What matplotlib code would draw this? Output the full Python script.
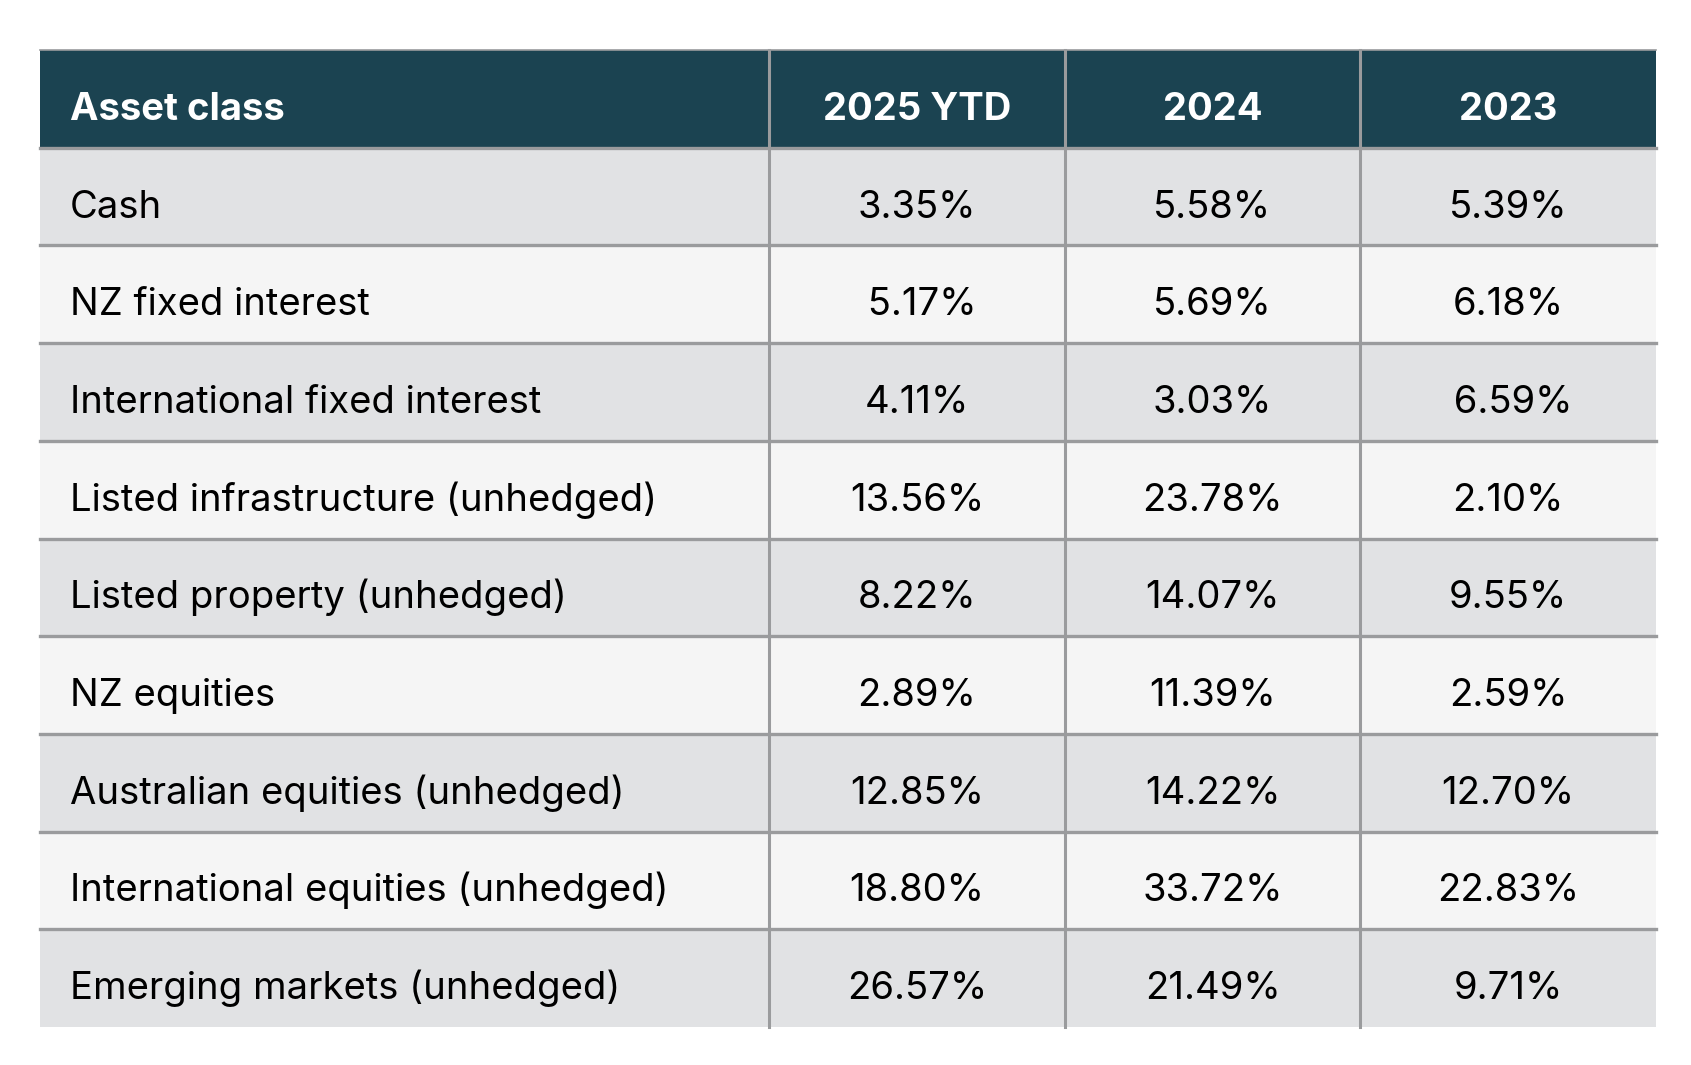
import matplotlib
matplotlib.use("Agg")
import matplotlib.pyplot as plt
from matplotlib.patches import Rectangle

plt.rcParams['font.family'] = ['Inter', 'DejaVu Sans']

headers = ["Asset class", "2025 YTD", "2024", "2023"]
assets = ["Cash", "NZ fixed interest", "International fixed interest",
          "Listed infrastructure (unhedged)", "Listed property (unhedged)",
          "NZ equities", "Australian equities (unhedged)",
          "International equities (unhedged)", "Emerging markets (unhedged)"]
ytd2025 = ["3.35%", " 5.17%", "4.11%", "13.56%", "8.22%", "2.89%", "12.85%", "18.80%", "26.57%"]
y2024 = ["5.58%", "5.69%", "3.03%", "23.78%", "14.07%", "11.39%", "14.22%", "33.72%", "21.49%"]
y2023 = ["5.39%", "6.18%", " 6.59%", "2.10%", "9.55%", "2.59%", "12.70%", "22.83%", "9.71%"]

W, H = 1691, 1065
col_edges = [40, 769, 1065, 1360, 1656]
top, bottom = 50, 1027
nrows = len(assets) + 1
rh = (bottom - top) / nrows

head_c = "#1b4351"
odd_c = "#e1e2e4"
even_c = "#f5f5f5"
line_c = "#9a9b9d"
fs = 27.5

fig = plt.figure(figsize=(W / 100, H / 100), dpi=100)
ax = fig.add_axes([0, 0, 1, 1])
ax.set_xlim(0, W)
ax.set_ylim(H, 0)
ax.axis("off")

rows = [headers] + [list(r) for r in zip(assets, ytd2025, y2024, y2023)]
for i, row in enumerate(rows):
    y0 = top + i * rh
    if i == 0:
        fc = head_c
    elif i % 2 == 1:
        fc = odd_c
    else:
        fc = even_c
    ax.add_patch(Rectangle((col_edges[0], y0), col_edges[-1] - col_edges[0], rh,
                           facecolor=fc, edgecolor="none", zorder=1))
    base = y0 + rh / 2 + 21
    for j, txt in enumerate(row):
        color = "white" if i == 0 else "black"
        weight = "bold" if i == 0 else "normal"
        if j == 0:
            ax.text(col_edges[0] + 30, base, txt, ha="left", va="baseline",
                    fontsize=fs, color=color, fontweight=weight, zorder=3)
        else:
            cx = (col_edges[j] + col_edges[j + 1]) / 2
            ax.text(cx, base, txt, ha="center", va="baseline",
                    fontsize=fs, color=color, fontweight=weight, zorder=3)

# horizontal rules
ax.plot([col_edges[0], col_edges[-1]], [top, top], color=line_c, lw=1.2, zorder=2)
for i in range(1, nrows):
    y = top + i * rh
    ax.plot([col_edges[0], col_edges[-1]], [y, y], color=line_c, lw=2.4, zorder=2)

# vertical rules
for x in col_edges[1:-1]:
    ax.plot([x, x], [top, bottom], color=line_c, lw=2.2, zorder=2)

fig.savefig("out.png", dpi=100, facecolor="white")
